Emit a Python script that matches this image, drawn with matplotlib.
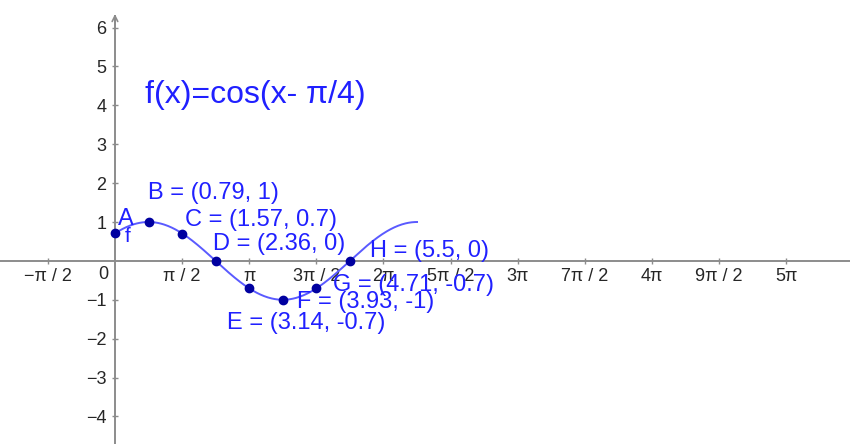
import numpy as np
import matplotlib
matplotlib.use("Agg")
import matplotlib.pyplot as plt

plt.rcParams['font.family'] = ['Liberation Sans', 'DejaVu Sans']

# named points on f(x) = cos(x - pi/4)
point_names = ["A", "B", "C", "D", "E", "F", "G", "H"]
point_x = [0.0, 0.79, 1.57, 2.36, 3.14, 3.93, 4.71, 5.5]
point_y = [0.71, 1, 0.7, 0, -0.7, -1, -0.7, 0]
point_labels = ["A", "B = (0.79, 1)", "C = (1.57, 0.7)", "D = (2.36, 0)",
                "E = (3.14, -0.7)", "F = (3.93, -1)", "G = (4.71, -0.7)",
                "H = (5.5, 0)"]
# label offsets in data units
label_dx = [0.07, -0.02, 0.07, -0.06, -0.52, 0.33, 0.4, 0.47]
label_dy = [0.37, 0.75, 0.35, 0.44, -0.89, -0.05, 0.07, 0.26]

x_tick_mult = [-1, 1, 2, 3, 4, 5, 6, 7, 8, 9, 10]
x_tick_labels = ["\u2212\u03c0 / 2", "\u03c0 / 2", "\u03c0", "3\u03c0 / 2", "2\u03c0",
                 "5\u03c0 / 2", "3\u03c0", "7\u03c0 / 2", "4\u03c0", "9\u03c0 / 2", "5\u03c0"]
y_ticks = [-4, -3, -2, -1, 1, 2, 3, 4, 5, 6]

curve_start, curve_end = 0.0, 9 * np.pi / 4

text_blue = "#2020ff"
curve_blue = "#5a5aff"
dot_blue = "#0000a0"
axis_grey = "#8c8c8c"
tick_text = "#262626"

fig = plt.figure(figsize=(8.5, 4.44), dpi=100)
ax = fig.add_axes([0, 0, 1, 1])
ax.set_xlim(-2.69, 17.2)
ax.set_ylim(-4.71, 6.71)

for side in ["top", "right"]:
    ax.spines[side].set_visible(False)
for side in ["left", "bottom"]:
    ax.spines[side].set_position(("data", 0))
    ax.spines[side].set_color(axis_grey)
    ax.spines[side].set_linewidth(1.4)
ax.spines["left"].set_bounds(-4.71, 6.3)

ax.set_xticks([m * np.pi / 2 for m in x_tick_mult])
ax.set_xticklabels(x_tick_labels)
ax.set_yticks(y_ticks)
ax.set_yticklabels([str(v).replace("-", "\u2212") for v in y_ticks])
ax.tick_params(axis="both", direction="inout", length=4, width=1,
               color=axis_grey, labelsize=13, labelcolor=tick_text)
ax.tick_params(axis="x", pad=3)
ax.tick_params(axis="y", pad=4)
ax.text(-0.16, -0.14, "0", ha="right", va="top", fontsize=13, color=tick_text)

# arrow head on the y axis
ax.annotate("", xy=(0, 6.42), xytext=(0, 6.0),
            arrowprops=dict(arrowstyle="->", color=axis_grey, lw=1.2))

xs = np.linspace(curve_start, curve_end, 400)
ax.plot(xs, np.cos(xs - np.pi / 4), color=curve_blue, lw=1.4, zorder=3)

ax.scatter(point_x, point_y, s=36, color=dot_blue, zorder=4)
for x, y, lab, dx, dy in zip(point_x, point_y, point_labels, label_dx, label_dy):
    ax.text(x + dx, y + dy, lab, fontsize=17, color=text_blue,
            ha="left", va="center", zorder=5)
ax.text(0.22, 0.62, "f", fontsize=15, color=text_blue, ha="left", va="center")

ax.text(0.7, 4.27, "f(x)=cos(x- \u03c0/4)", fontsize=23, color=text_blue,
        ha="left", va="center")

fig.savefig("out.png", dpi=100)
